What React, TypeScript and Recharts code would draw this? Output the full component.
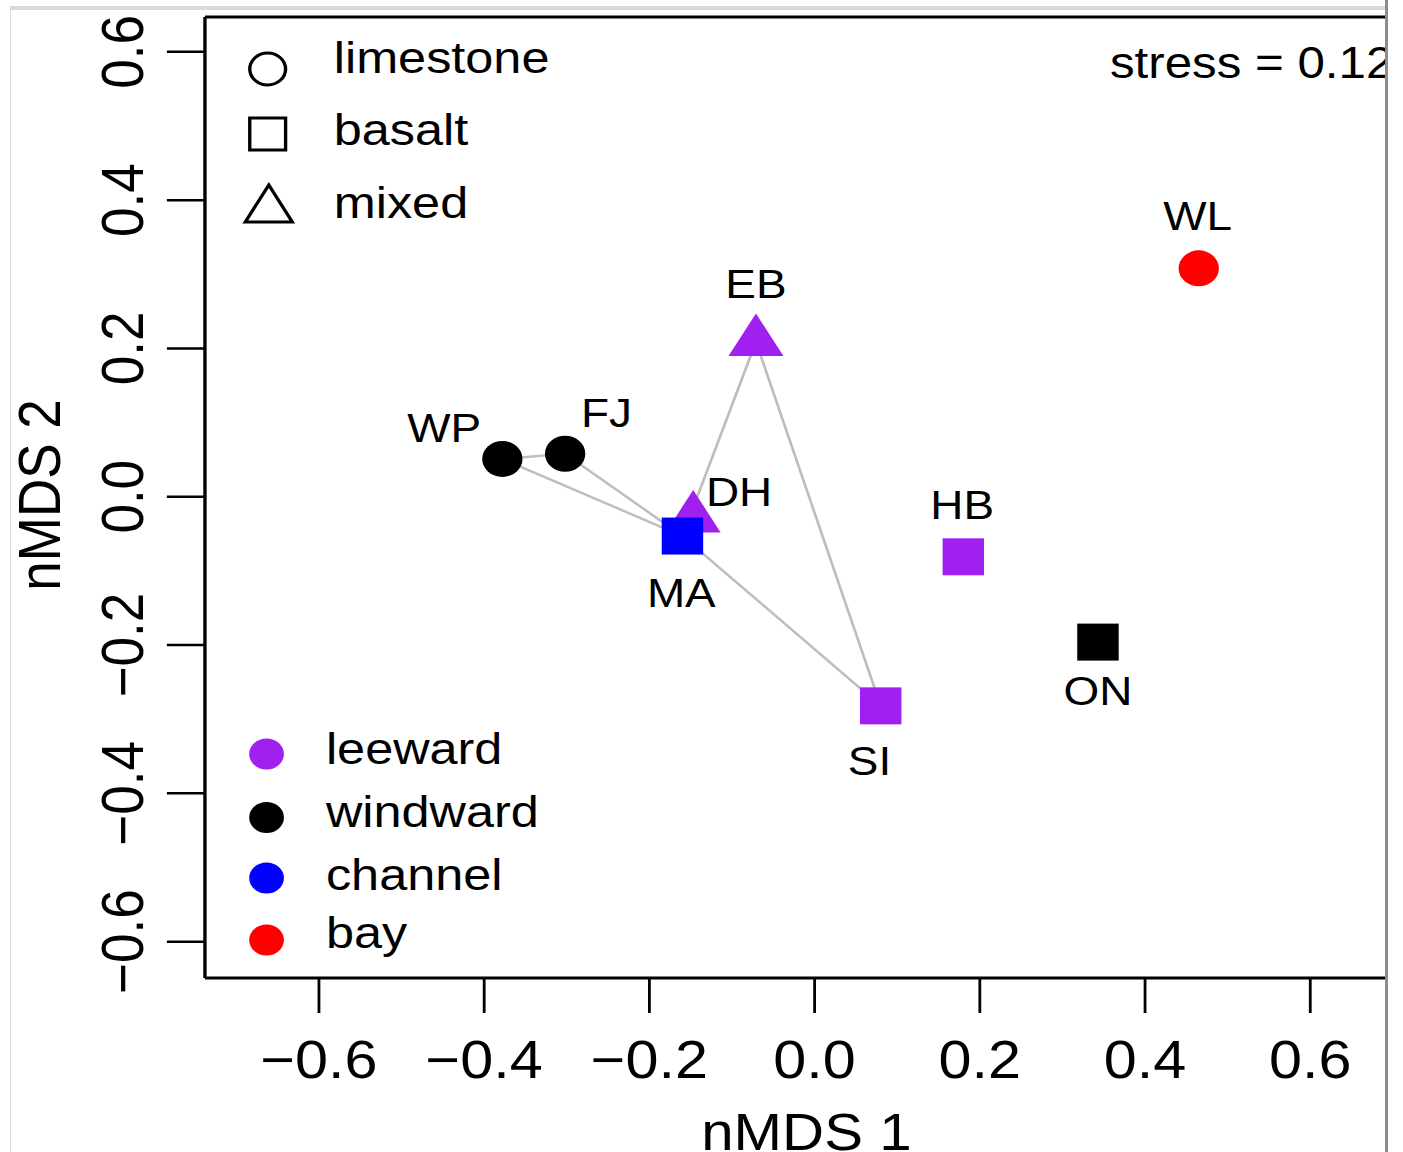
import { ScatterChart, Scatter, XAxis, YAxis, ReferenceLine, Label } from 'recharts';

// nMDS site scores
const sites = ['WP', 'FJ', 'EB', 'DH', 'MA', 'HB', 'ON', 'SI', 'WL'];
const nmds1 = [-0.378, -0.302, -0.071, -0.147, -0.160, 0.180, 0.343, 0.080, 0.465];
const nmds2 = [0.051, 0.058, 0.209, -0.029, -0.053, -0.081, -0.196, -0.282, 0.308];
const substrate = ['limestone', 'limestone', 'mixed', 'mixed', 'basalt', 'basalt', 'basalt', 'basalt', 'limestone'];
const exposure = ['windward', 'windward', 'leeward', 'leeward', 'channel', 'leeward', 'windward', 'leeward', 'bay'];

const substrateTypes = ['limestone', 'basalt', 'mixed'];
const exposureTypes = ['leeward', 'windward', 'channel', 'bay'];

// hull outlines (site order)
const hullA = ['WP', 'FJ', 'MA', 'WP'];
const hullB = ['MA', 'EB', 'SI', 'MA'];

const xTicks = [-0.6, -0.4, -0.2, 0, 0.2, 0.4, 0.6];
const yTicks = [-0.6, -0.4, -0.2, 0, 0.2, 0.4, 0.6];
const stressText = 'stress = 0.12';

const exposureColors: Record<string, string> = {
  leeward: '#A020F0',
  windward: '#000000',
  channel: '#0000FF',
  bay: '#FF0000',
};

// label placement relative to the marker (px, unscaled)
const labelOffset: Record<string, { dx: number; dy: number }> = {
  WP: { dx: -52, dy: -17 },
  FJ: { dx: 37, dy: -27 },
  EB: { dx: 0, dy: -44 },
  DH: { dx: 41, dy: -12 },
  MA: { dx: -1, dy: 71 },
  HB: { dx: -1, dy: -38 },
  ON: { dx: 0, dy: 63 },
  SI: { dx: -10, dy: 69 },
  WL: { dx: -1, dy: -38 },
};

const SX = 1.12; // the original figure is a bit stretched horizontally
const W = 1237;
const H = 1152;
const FONT = '"Liberation Sans", Arial, Helvetica, sans-serif';

const points = sites.map((site, i) => ({
  site,
  x: nmds1[i],
  y: nmds2[i],
  substrate: substrate[i],
  exposure: exposure[i],
}));

const hullData = (ids: string[]) =>
  ids.map((id) => points.find((p) => p.site === id)!).map((p) => ({ x: p.x, y: p.y }));

const fmt = (v: number) => (v < 0 ? '\u2212' + Math.abs(v).toFixed(1) : v.toFixed(1));

function SiteMarker(props: any) {
  const { cx, cy, payload } = props;
  const fill = exposureColors[payload.exposure];
  const off = labelOffset[payload.site] || { dx: 0, dy: -30 };
  let mark;
  if (payload.substrate === 'limestone') {
    mark = <circle cx={cx} cy={cy} r={18} fill={fill} />;
  } else if (payload.substrate === 'basalt') {
    mark = <rect x={cx - 18.5} y={cy - 18.5} width={37} height={37} fill={fill} />;
  } else {
    const r = 28.3;
    mark = (
      <polygon
        points={`${cx},${cy - r} ${cx + r * 0.866},${cy + r / 2} ${cx - r * 0.866},${cy + r / 2}`}
        fill={fill}
      />
    );
  }
  return (
    <g>
      {mark}
      <text x={cx + off.dx} y={cy + off.dy} textAnchor="middle" fontSize={41} fill="#000" fontFamily={FONT}>
        {payload.site}
      </text>
    </g>
  );
}

function XTick(props: any) {
  const { x, payload } = props;
  return (
    <text x={x} y={1078} textAnchor="middle" fontSize={53} fill="#000" fontFamily={FONT}>
      {fmt(payload.value)}
    </text>
  );
}

function YTick(props: any) {
  const { y, payload } = props;
  return (
    <text transform={`translate(128,${y}) rotate(-90)`} textAnchor="middle" fontSize={53} fill="#000" fontFamily={FONT}>
      {fmt(payload.value)}
    </text>
  );
}

function ShapeLegend() {
  const rows = [73, 145, 218];
  const cx = 239;
  return (
    <g fontFamily={FONT} fontSize={45} fill="#000">
      {substrateTypes.map((t, i) => {
        let sym;
        if (t === 'limestone') sym = <circle cx={cx} cy={69} r={16} fill="none" stroke="#000" strokeWidth={3} />;
        else if (t === 'basalt') sym = <rect x={cx - 16} y={118} width={32} height={32} fill="none" stroke="#000" strokeWidth={3} />;
        else sym = <polygon points={`${cx + 1},${185} ${cx + 22},${222} ${cx - 20},${222}`} fill="none" stroke="#000" strokeWidth={3} />;
        return (
          <g key={t}>
            {sym}
            <text x={298} y={rows[i]}>{t}</text>
          </g>
        );
      })}
    </g>
  );
}

function ColorLegend() {
  const dots = [754, 817.5, 878, 940];
  const rows = [764, 827, 890, 948];
  return (
    <g fontFamily={FONT} fontSize={45} fill="#000">
      {exposureTypes.map((t, i) => (
        <g key={t}>
          <circle cx={238} cy={dots[i]} r={15.5} fill={exposureColors[t]} />
          <text x={291} y={rows[i]}>{t}</text>
        </g>
      ))}
    </g>
  );
}

export default function App() {
  return (
    <div style={{ position: 'absolute', left: 0, top: 0, width: 1403, height: H, background: '#fff', overflow: 'hidden' }}>
      {/* screenshot frame */}
      <div style={{ position: 'absolute', left: 10, top: 6, width: 1376, height: 4, background: '#d9d9d9' }} />
      <div style={{ position: 'absolute', left: 10, top: 6, width: 1, height: H, background: '#dcdcdc' }} />
      <div style={{ position: 'absolute', left: 0, top: 0, width: 1385, height: H, overflow: 'hidden' }}>
        <div style={{ position: 'absolute', left: 0, top: 0, width: W, height: H, transform: `scaleX(${SX})`, transformOrigin: '0 0', fontFamily: FONT }}>
          <ScatterChart width={W} height={H} margin={{ top: 17, right: 0, bottom: 0, left: 0 }}>
            <XAxis
              type="number"
              dataKey="x"
              domain={[-0.738, 0.691]}
              ticks={xTicks}
              interval={0}
              height={174}
              tickSize={35}
              tick={<XTick />}
              axisLine={{ stroke: '#000', strokeWidth: 3 }}
              tickLine={{ stroke: '#000', strokeWidth: 2.5 }}
              allowDataOverflow
            >
              <Label
                content={() => (
                  <text x={720} y={1150} textAnchor="middle" fontSize={52} fill="#000" fontFamily={FONT}>
                    nMDS 1
                  </text>
                )}
              />
            </XAxis>
            <YAxis
              type="number"
              dataKey="y"
              domain={[-0.649, 0.647]}
              ticks={yTicks}
              interval={0}
              width={183}
              tickSize={34}
              tick={<YTick />}
              axisLine={{ stroke: '#000', strokeWidth: 3 }}
              tickLine={{ stroke: '#000', strokeWidth: 2.5 }}
              allowDataOverflow
            >
              <Label
                content={() => (
                  <text transform="translate(53.5,495) rotate(-90)" textAnchor="middle" fontSize={53} fill="#000" fontFamily={FONT}>
                    nMDS 2
                  </text>
                )}
              />
            </YAxis>
            <ReferenceLine y={0.647} stroke="#000" strokeWidth={3} />
            <Scatter data={hullData(hullA)} line={{ stroke: '#BEBEBE', strokeWidth: 2.4 }} shape={() => <g />} legendType="none" isAnimationActive={false} />
            <Scatter data={hullData(hullB)} line={{ stroke: '#BEBEBE', strokeWidth: 2.4 }} shape={() => <g />} legendType="none" isAnimationActive={false} />
            <Scatter data={points} shape={<SiteMarker />} isAnimationActive={false} />
          </ScatterChart>
          <svg width={W} height={H} style={{ position: 'absolute', left: 0, top: 0, pointerEvents: 'none' }}>
            <ShapeLegend />
            <ColorLegend />
            <text x={991} y={78} fontSize={44} fill="#000" fontFamily={FONT}>
              {stressText}
            </text>
          </svg>
        </div>
      </div>
      <div style={{ position: 'absolute', left: 1385, top: 0, width: 3, height: H, background: '#8c8c8c' }} />
    </div>
  );
}
